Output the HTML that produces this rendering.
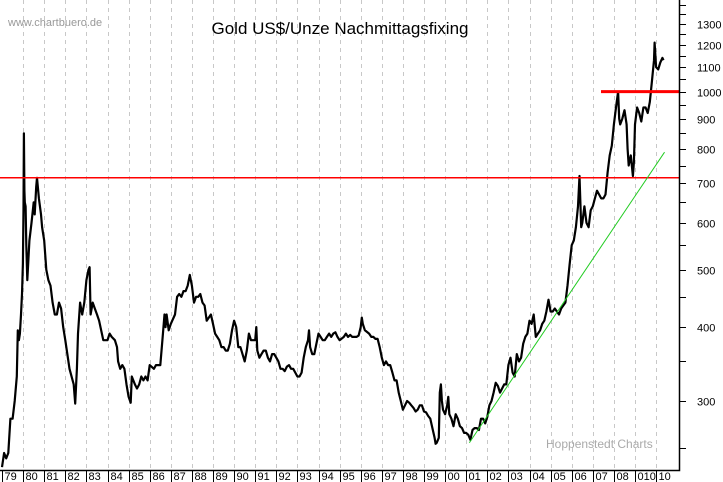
<!DOCTYPE html>
<html><head><meta charset="utf-8"><style>
body{margin:0;background:#fff;}
svg{display:block;font-family:"Liberation Sans",sans-serif;}
</style></head><body>
<svg id="chart" width="723" height="482" viewBox="0 0 723 482">
<rect x="0" y="0" width="723" height="482" fill="#fff"/>
<g id="grid"></g>
<g id="series"></g>
<g id="axes"></g>
<text x="8" y="26" font-size="11" fill="#999">www.chartbuero.de</text>
<text x="340" y="34" font-size="17" text-anchor="middle" fill="#000">Gold US$/Unze Nachmittagsfixing</text>
<text x="546" y="448" font-size="12" fill="#aaa">Hoppenstedt Charts</text>
</svg>
<script>
const years = ["79","80","81","82","83","84","85","86","87","88","89","90","91","92","93","94","95","96","97","98","99","00","01","02","03","04","05","06","07","08","010","10"];
const yTicks = [300,400,500,600,700,800,900,1000,1100,1200,1300];
const yMinor = [250,350,450,550,650,750,850,950,1050,1150,1250,1350,1400];
const dates = [1979.0,1979.1,1979.2,1979.3,1979.4,1979.5,1979.6,1979.7,1979.75,1979.8,1979.85,1979.9,1979.95,1979.99,
1980.02,1980.04,1980.06,1980.08,1980.12,1980.15,1980.2,1980.25,1980.3,1980.4,1980.5,1980.55,1980.62,1980.66,1980.75,1980.85,1980.9,
1981.0,1981.1,1981.2,1981.3,1981.4,1981.5,1981.6,1981.7,1981.8,1981.9,
1982.0,1982.2,1982.4,1982.47,1982.55,1982.6,1982.7,1982.75,1982.8,1982.9,
1983.0,1983.1,1983.15,1983.2,1983.3,1983.4,1983.5,1983.6,1983.8,1983.9,
1984.0,1984.1,1984.2,1984.35,1984.45,1984.5,1984.6,1984.7,1984.8,1984.9,
1985.0,1985.1,1985.15,1985.3,1985.4,1985.5,1985.6,1985.7,1985.8,1985.9,
1986.0,1986.2,1986.3,1986.4,1986.5,1986.6,1986.7,1986.75,1986.8,1986.9,
1987.0,1987.2,1987.3,1987.4,1987.5,1987.6,1987.7,1987.8,1987.9,1987.95,
1988.0,1988.1,1988.2,1988.3,1988.4,1988.5,1988.6,1988.7,1988.8,1988.9,
1989.0,1989.1,1989.2,1989.3,1989.4,1989.5,1989.6,1989.7,1989.8,1989.9,
1990.0,1990.1,1990.2,1990.3,1990.4,1990.5,1990.6,1990.7,1990.8,1990.9,
1991.0,1991.05,1991.1,1991.2,1991.3,1991.4,1991.5,1991.6,1991.7,1991.8,1991.9,
1992.0,1992.1,1992.2,1992.3,1992.4,1992.5,1992.6,1992.7,1992.8,1992.9,
1993.0,1993.1,1993.2,1993.3,1993.4,1993.5,1993.55,1993.6,1993.7,1993.8,1993.9,
1994.0,1994.1,1994.2,1994.3,1994.4,1994.5,1994.6,1994.7,1994.8,1994.9,
1995.0,1995.2,1995.3,1995.4,1995.5,1995.6,1995.7,1995.8,1995.9,
1996.0,1996.05,1996.1,1996.2,1996.4,1996.5,1996.6,1996.7,1996.8,1996.9,
1997.0,1997.1,1997.2,1997.3,1997.4,1997.5,1997.6,1997.7,1997.8,1997.9,
1998.0,1998.1,1998.2,1998.3,1998.4,1998.5,1998.6,1998.7,1998.8,1998.9,
1999.0,1999.1,1999.2,1999.3,1999.4,1999.5,1999.55,1999.6,1999.7,1999.75,1999.8,1999.85,1999.9,
2000.0,2000.1,2000.15,2000.2,2000.3,2000.4,2000.5,2000.6,2000.7,2000.8,2000.9,
2001.0,2001.1,2001.2,2001.3,2001.4,2001.5,2001.6,2001.7,2001.8,2001.9,
2002.0,2002.1,2002.2,2002.3,2002.4,2002.5,2002.6,2002.7,2002.8,2002.9,
2003.0,2003.1,2003.2,2003.3,2003.4,2003.5,2003.6,2003.7,2003.8,2003.9,
2004.0,2004.1,2004.2,2004.3,2004.4,2004.5,2004.6,2004.7,2004.8,2004.9,
2005.0,2005.1,2005.2,2005.3,2005.4,2005.5,2005.6,2005.7,2005.8,2005.9,
2006.0,2006.1,2006.2,2006.3,2006.37,2006.45,2006.5,2006.6,2006.7,2006.8,2006.9,
2007.0,2007.1,2007.2,2007.3,2007.4,2007.5,2007.6,2007.7,2007.8,2007.9,
2008.0,2008.1,2008.2,2008.25,2008.3,2008.4,2008.5,2008.6,2008.65,2008.7,2008.8,2008.9,2008.95,
2009.0,2009.1,2009.2,2009.3,2009.4,2009.5,2009.6,2009.7,2009.8,2009.9,2009.93,
2010.0,2010.1,2010.2,2010.3,2010.35];
const prices = [232,245,240,245,280,280,300,330,395,380,390,420,455,512,
634,850,680,650,640,550,480,520,560,600,650,620,690,715,660,620,590,
560,500,480,470,440,420,420,440,430,400,
380,340,320,297,340,390,440,430,420,440,
480,500,505,420,440,430,420,410,380,380,
380,390,385,380,370,350,340,345,340,320,
305,298,330,320,315,320,330,325,330,325,
345,340,345,345,345,380,420,400,420,395,
405,420,450,455,450,460,460,470,490,480,
470,440,450,450,455,440,435,410,415,420,
405,390,385,380,370,370,365,365,375,395,
410,400,370,370,360,350,365,390,380,380,
380,400,365,355,360,365,365,355,350,360,360,
355,350,340,340,337,343,345,340,340,335,
330,330,335,355,370,380,395,370,360,360,375,
390,385,380,380,385,390,385,390,392,385,
380,385,390,385,388,385,385,385,387,
400,415,405,395,390,385,385,382,382,370,
355,345,350,345,345,335,325,325,310,300,
290,295,300,298,295,292,288,290,295,295,
288,287,283,280,270,260,254,255,260,310,320,300,290,
285,295,305,285,280,272,285,280,272,270,265,
265,263,258,268,270,270,268,280,280,275,
282,295,300,310,322,318,310,315,320,320,
345,355,335,330,360,350,355,375,385,390,
410,405,420,385,390,395,405,410,425,445,
425,425,430,425,420,430,435,440,470,510,
550,560,590,640,720,590,600,640,600,590,630,
640,660,680,670,660,660,670,730,780,810,
880,940,1000,900,880,900,930,880,800,750,780,720,760,
880,940,920,890,940,940,920,960,1040,1130,1210,
1100,1090,1120,1140,1130];
const refLines = [715];
const resistLine = [1000];
const trendStart = [2001.15, 255];
const trendEnd = [2010.4, 790];

const NS="http://www.w3.org/2000/svg";
const X0=2, DX=21.1, RIGHT=679, BOTTOM=470;
function xs(yr){return X0+(yr-1979)*DX;}
function ys(p){return 401-257*Math.log(p/300);}
function mk(tag,attrs,parent){const e=document.createElementNS(NS,tag);for(const k in attrs)e.setAttribute(k,attrs[k]);parent.appendChild(e);return e;}
const grid=document.getElementById('grid'),series=document.getElementById('series'),axes=document.getElementById('axes');

years.forEach((lab,i)=>{
  const x=Math.round(xs(1979+i))+0.5;
  if(i>0){const g=mk('line',{x1:x,y1:0,x2:x,y2:BOTTOM,stroke:'#c8c8c8','stroke-dasharray':'4,4'},grid);
  
  }
  const t=mk('line',{x1:x,y1:BOTTOM,x2:x,y2:482,stroke:'#000'},axes);
  
  
  const tx=mk('text',{x:x+2,y:480,'font-size':11,fill:'#000'},axes);
  tx.textContent=lab;
  
  
});
let d='';
dates.forEach((yr,i)=>{d+=(i?'L':'M')+xs(yr).toFixed(1)+','+ys(prices[i]).toFixed(1);});
const line=mk('path',{d:d,fill:'none',stroke:'#000','stroke-width':2.2,'stroke-linejoin':'round'},series);



refLines.forEach(v=>{const l=mk('line',{x1:0,y1:ys(v),x2:RIGHT,y2:ys(v),stroke:'#f00','stroke-width':1.5},series);

});
resistLine.forEach(v=>{const l=mk('line',{x1:601,y1:ys(v),x2:RIGHT,y2:ys(v),stroke:'#f00','stroke-width':3},series);

});
const tl=mk('line',{x1:xs(trendStart[0]),y1:ys(trendStart[1]),x2:xs(trendEnd[0]),y2:ys(trendEnd[1]),stroke:'#2c2','stroke-width':1},series);



const ax=mk('path',{d:'M0,'+(BOTTOM+0.5)+'H'+(RIGHT+0.5)+'V0',fill:'none',stroke:'#000','stroke-width':1.5},axes);


yTicks.forEach(v=>{const y=Math.round(ys(v))+0.5;
  const t=mk('line',{x1:RIGHT,y1:y,x2:RIGHT+7,y2:y,stroke:'#000'},axes);
  
  
  const tx=mk('text',{x:RIGHT+18,y:y+4,'font-size':11,fill:'#000'},axes);
  tx.textContent=v;
  
  
});
yMinor.forEach(v=>{const y=Math.round(ys(v))+0.5;
  const t=mk('line',{x1:RIGHT,y1:y,x2:RIGHT+7,y2:y,stroke:'#000'},axes);
  
  
});
</script>
</body></html>
